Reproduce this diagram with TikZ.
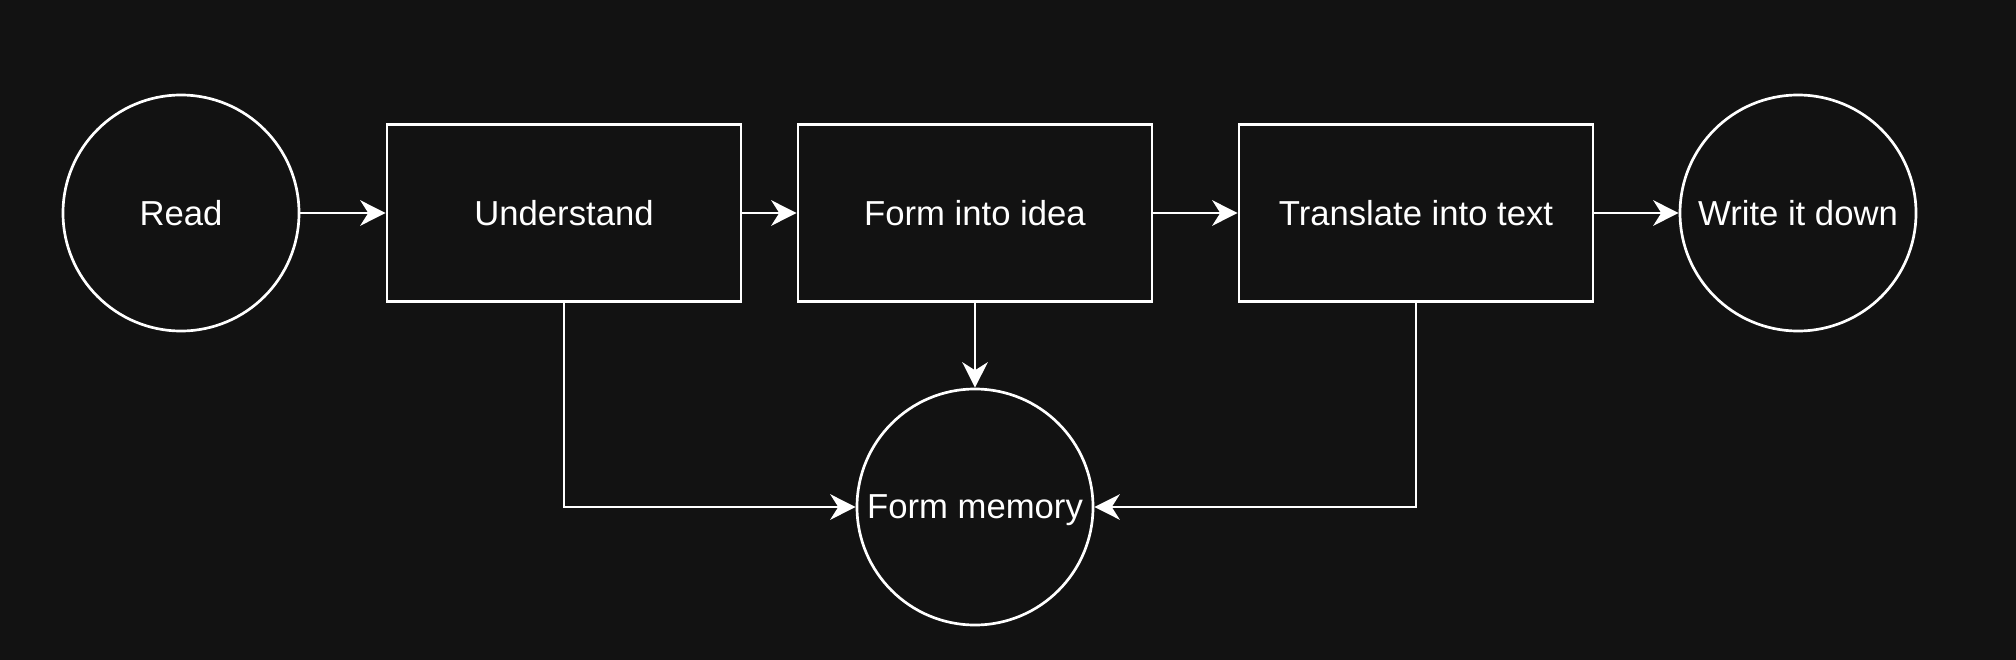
\documentclass[tikz,border=0pt]{standalone}
\usepackage{fontspec}
\setmainfont{Liberation Sans}
\usepackage{tikz}
\usetikzlibrary{shapes,arrows.meta,positioning}
\definecolor{bgdark}{HTML}{121212}

\begin{document}
\begin{tikzpicture}[x=0.5bp,y=-0.5bp,
	line width=1.35pt,
	font=\fontsize{17.4}{20}\selectfont,
	stage/.style={draw=white,fill=bgdark,text=white,minimum width=177bp,minimum height=88.5bp,inner sep=0pt},
	endpoint/.style={draw=white,fill=bgdark,text=white,circle,minimum size=118bp,inner sep=0pt},
	flow/.style={draw=white,-{Stealth[length=12.7bp,width=12.7bp,inset=4bp]}}]
	% background
	\fill [bgdark] (0,0) rectangle (2016,660);

	% Start and end
	\node [endpoint] (read) at (181,213) {Read};
	\node [endpoint] (write) at (1798,213) {Write it down};

	% Stages
	\node [stage] (understand) at (564,213) {Understand};
	\node [stage] (idea) at (975,213) {Form into idea};
	\node [stage] (translate) at (1416,213) {Translate into text};

	% Memory
	\node [endpoint,text depth=0pt] (memory) at (975,507) {Form memory};

	% Main flow
	\draw [flow] (read) -- (understand);
	\draw [flow] (understand) -- (idea);
	\draw [flow] (idea) -- (translate);
	\draw [flow] (translate) -- (write);

	% Into memory
	\draw [flow] (idea) -- (memory);
	\draw [flow] (understand.south) |- (memory.west);
	\draw [flow] (translate.south) |- (memory.east);

\end{tikzpicture}
\end{document}
